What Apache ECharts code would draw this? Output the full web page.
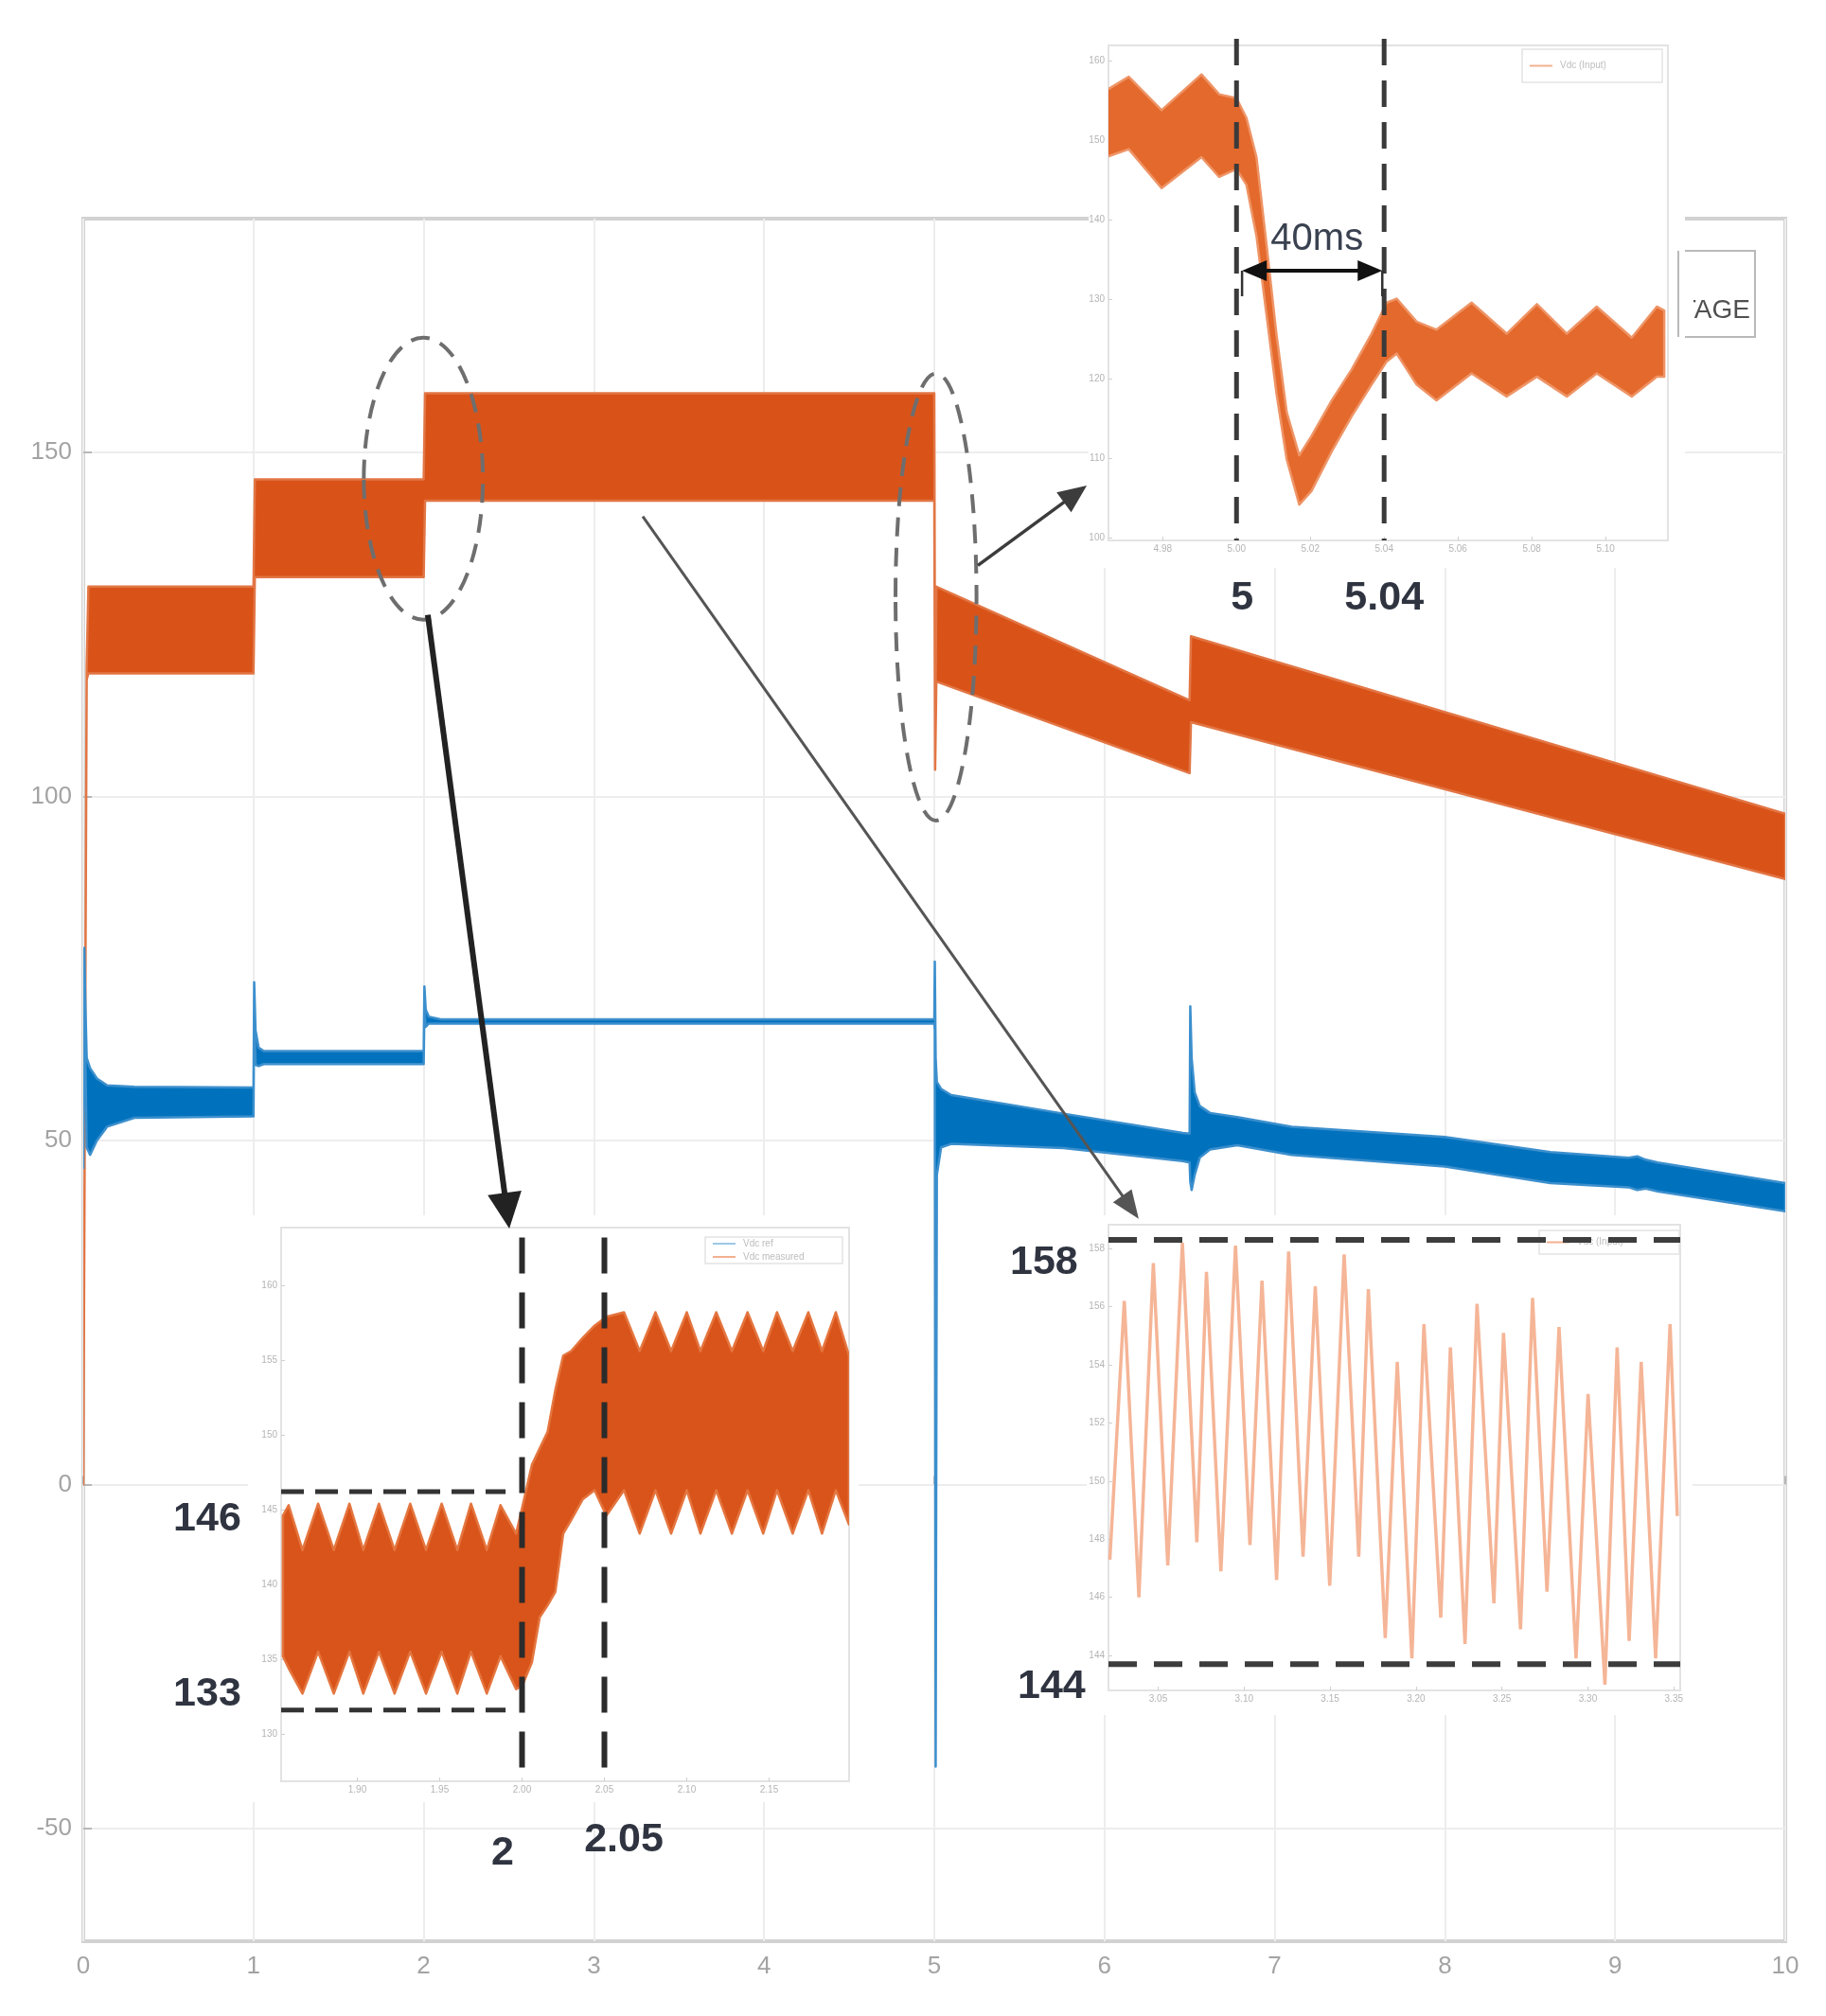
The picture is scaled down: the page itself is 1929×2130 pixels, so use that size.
<!DOCTYPE html>
<html><head><meta charset="utf-8">
<script src="https://cdn.jsdelivr.net/npm/echarts@6/dist/echarts.min.js"></script>
<style>html,body{margin:0;padding:0;background:#fff}#c{width:1929px;height:2130px}</style>
</head><body><div id="c"></div>
<script>
// ---------------- DATA ----------------
const mainXTicks = [0, 1, 2, 3, 4, 5, 6, 7, 8, 9, 10];
const mainYTicks = [-50, 0, 50, 100, 150];

// Orange (voltage) envelope: time, upper edge, lower edge
const voltT  = [0, 0.02, 0.03, 1.0, 1.008, 2.0, 2.008, 5.0, 5.005, 5.012, 6.5, 6.508, 10.0];
const voltHi = [0.5, 119, 130.5, 130.5, 146.1, 146.1, 158.6, 158.6, 106, 130.5, 114, 123.3, 97.5];
const voltLo = [0, 117, 117.9, 117.9, 131.9, 131.9, 143.0, 143.0, 103.9, 116.7, 103.4, 110.8, 88.0];

// Blue (current) envelope
const curT  = [0, 0.006, 0.012, 0.02, 0.04, 0.08, 0.14, 0.3, 1.0, 1.004, 1.012, 1.03, 1.06, 2.0, 2.004, 2.012, 2.03, 2.1, 5.0, 5.003, 5.008, 5.015, 5.04, 5.1, 5.76, 6.46, 6.5, 6.504, 6.512, 6.53, 6.56, 6.62, 6.78, 7.1, 8.0, 8.62, 9.08, 9.13, 9.18, 9.25, 10.0];
const curHi = [48, 78, 70, 62, 60.5, 59, 58, 57.8, 57.7, 73, 66, 63.5, 63, 63, 72.4, 69, 68, 67.6, 67.6, 76, 62, 58.5, 57.5, 56.6, 53.9, 51.1, 51, 69.5, 62, 57, 55, 54, 53.4, 52, 50.5, 48.3, 47.5, 47.7, 47.2, 46.8, 43.8];
const curLo = [46, 74, 62, 49, 47.9, 50, 52, 53.3, 53.5, 69, 61, 60.8, 61.1, 61.1, 69, 66.5, 67, 67, 67, 66, -41, 45, 49, 49.5, 48.9, 47, 46.8, 44, 42.8, 45, 47.5, 48.7, 49.3, 47.9, 46.2, 43.8, 43.2, 42.8, 43.0, 42.6, 39.7];

// Inset A (zoom at t = 5 s)
const insetA_XTicks = [4.98, 5.0, 5.02, 5.04, 5.06, 5.08, 5.1];
const insetA_YTicks = [100, 110, 120, 130, 140, 150, 160];
const insetA_T  = [4.9647, 4.9708, 4.9797, 4.9905, 4.9953, 5.0, 5.0027, 5.0054, 5.0081, 5.0108, 5.0136, 5.0170, 5.0203, 5.0258, 5.0312, 5.0366, 5.0407, 5.0434, 5.0488, 5.0542, 5.0637, 5.0732, 5.0814, 5.0895, 5.0976, 5.1071, 5.1139, 5.1159];
const insetA_Hi = [156.3, 158.0, 153.8, 158.3, 155.8, 155.3, 152.8, 147.9, 137.0, 125.7, 115.8, 110.4, 112.8, 117.3, 121.2, 125.7, 129.6, 130.1, 127.2, 126.2, 129.6, 125.7, 129.4, 125.7, 129.1, 125.2, 129.1, 128.6];
const insetA_Lo = [147.9, 148.9, 144.0, 147.9, 145.4, 146.4, 144.4, 138.0, 128.2, 118.3, 109.9, 104.2, 105.9, 110.9, 115.3, 119.3, 122.2, 123.2, 119.3, 117.3, 120.7, 117.8, 120.3, 117.8, 120.7, 117.8, 120.3, 120.3];
const insetA_Marks = [5.0, 5.04];

// Inset B (zoom at t = 2 s)
const insetB_XTicks = [1.9, 1.95, 2.0, 2.05, 2.1, 2.15];
const insetB_YTicks = [130, 135, 140, 145, 150, 155, 160];
const insetB_T  = [1.8548, 1.8583, 1.8667, 1.8762, 1.8857, 1.8952, 1.9036, 1.9131, 1.9226, 1.9321, 1.9417, 1.9512, 1.9607, 1.9690, 1.9786, 1.9869, 1.9964, 2.0000, 2.0060, 2.0107, 2.0155, 2.0202, 2.0250, 2.0298, 2.0369, 2.0440, 2.0512, 2.0619, 2.0714, 2.0810, 2.0905, 2.1000, 2.1083, 2.1179, 2.1274, 2.1369, 2.1464, 2.1548, 2.1643, 2.1738, 2.1821, 2.1905, 2.1985];
const insetB_Hi = [144.6, 145.3, 142.3, 145.4, 142.3, 145.4, 142.3, 145.4, 142.3, 145.4, 142.3, 145.4, 142.3, 145.4, 142.3, 145.3, 143.4, 145.1, 148.0, 149.1, 150.2, 153.0, 155.3, 155.6, 156.5, 157.3, 157.9, 158.2, 155.6, 158.2, 155.6, 158.2, 155.6, 158.2, 155.6, 158.2, 155.6, 158.2, 155.6, 158.2, 155.6, 158.2, 155.3];
const insetB_Lo = [135.2, 134.4, 132.7, 135.5, 132.7, 135.5, 132.7, 135.5, 132.7, 135.5, 132.7, 135.5, 132.7, 135.5, 132.7, 135.2, 133.0, 133.2, 134.8, 137.8, 138.6, 139.5, 143.4, 144.3, 145.7, 146.3, 144.6, 146.3, 143.4, 146.3, 143.4, 146.3, 143.4, 146.3, 143.4, 146.3, 143.4, 146.3, 143.4, 146.3, 143.4, 146.3, 144.0];
const insetB_XMarks = [2.0, 2.05];
const insetB_YMarks = [146.2, 131.6];

// Inset C (steady state ripple 144..158)
const insetC_XTicks = [3.05, 3.1, 3.15, 3.2, 3.25, 3.3, 3.35];
const insetC_YTicks = [144, 146, 148, 150, 152, 154, 156, 158];
const insetC_T = [3.0219, 3.0303, 3.0388, 3.0472, 3.0556, 3.0641, 3.0725, 3.0781, 3.0865, 3.0950, 3.1034, 3.1104, 3.1189, 3.1259, 3.1343, 3.1414, 3.1498, 3.1582, 3.1667, 3.1723, 3.1821, 3.1891, 3.1976, 3.2046, 3.2144, 3.2200, 3.2285, 3.2355, 3.2453, 3.2509, 3.2608, 3.2678, 3.2762, 3.2832, 3.2931, 3.3001, 3.3099, 3.3170, 3.3240, 3.3310, 3.3394, 3.3478, 3.3520];
const insetC_V = [147.3, 156.2, 146.0, 157.5, 147.1, 158.2, 147.9, 157.2, 146.9, 158.1, 147.8, 156.9, 146.6, 157.9, 147.4, 156.7, 146.4, 157.8, 147.4, 156.6, 144.6, 154.1, 143.9, 155.4, 145.3, 154.6, 144.4, 156.1, 145.8, 155.1, 144.9, 156.3, 146.2, 155.3, 143.9, 153.0, 143.0, 154.6, 144.5, 154.1, 143.9, 155.4, 148.8];
const insetC_YMarks = [158.3, 143.7];

const annotationTexts = { a146: '146', a133: '133', a2: '2', a205: '2.05', a5: '5', a504: '5.04', a40: '40ms', a158: '158', a144: '144' };

// ---------------- CHART ----------------
const chart = echarts.init(document.getElementById('c'), null, { renderer: 'canvas', width: 1929, height: 2130 });
const NUM_FONT = "'Liberation Sans', sans-serif";

function ax(g, min, max, ticks, o) {
  return {
    type: 'value', gridIndex: g, min: min, max: max, z: o.z || 0,
    axisLine: { show: false },
    axisTick: { show: true, inside: true, length: o.tickLen, customValues: ticks, lineStyle: { color: o.tickColor, width: o.tickW } },
    axisLabel: { customValues: ticks, fontSize: o.fs, color: o.lc, margin: o.margin, fontFamily: 'Liberation Sans', formatter: o.fmt },
    splitLine: { show: !!o.split, lineStyle: { color: '#ededed', width: 2 } }
  };
}
const mainO = { tickLen: 9, tickColor: '#b8b8b8', tickW: 2, fs: 26, lc: '#a3a3a3', split: true };
const insO = { tickLen: 4, tickColor: '#d0d0d0', tickW: 1, fs: 10, lc: '#b4b4b4', margin: 4, z: 6 };

function bandSeries(g, T, H, L, fill, stroke, z) {
  return {
    type: 'custom', xAxisIndex: g, yAxisIndex: g, z: z, clip: true, silent: true, animation: false,
    data: [[T[0], H[0]]],
    renderItem: function (params, api) {
      const pts = [];
      for (let i = 0; i < T.length; i++) pts.push(api.coord([T[i], H[i]]));
      for (let i = T.length - 1; i >= 0; i--) pts.push(api.coord([T[i], L[i]]));
      return { type: 'polygon', shape: { points: pts }, style: { fill: fill, stroke: stroke, lineWidth: 2.5, lineJoin: 'round' } };
    }
  };
}

const f2 = v => v.toFixed(2);
const f0 = v => String(Math.round(v));

const option = {
  animation: false,
  backgroundColor: '#ffffff',
  grid: [
    { left: 88, top: 231, width: 1798, height: 1820, show: true, borderColor: '#d2d2d2', borderWidth: 4, backgroundColor: '#ffffff', z: 0 },
    { left: 1171, top: 48, width: 591, height: 523, show: true, borderColor: '#e3e3e3', borderWidth: 2, backgroundColor: '#ffffff', z: 5 },
    { left: 297, top: 1297, width: 600, height: 585, show: true, borderColor: '#e3e3e3', borderWidth: 2, backgroundColor: '#ffffff', z: 5 },
    { left: 1171, top: 1294, width: 604, height: 492, show: true, borderColor: '#e3e3e3', borderWidth: 2, backgroundColor: '#ffffff', z: 5 }
  ],
  xAxis: [
    ax(0, 0, 10, mainXTicks, Object.assign({}, mainO, { margin: 14, fmt: f0 })),
    ax(1, 4.9653, 5.1169, insetA_XTicks, Object.assign({}, insO, { fmt: f2 })),
    ax(2, 1.85374, 2.19856, insetB_XTicks, Object.assign({}, insO, { fmt: f2 })),
    ax(3, 3.0211, 3.3537, insetC_XTicks, Object.assign({}, insO, { fmt: f2 }))
  ],
  yAxis: [
    ax(0, -66.4, 184, mainYTicks, Object.assign({}, mainO, { margin: 12, fmt: f0 })),
    ax(1, 99.7, 161.94, insetA_YTicks, Object.assign({}, insO, { fmt: f0 })),
    ax(2, 126.84, 163.86, insetB_YTicks, Object.assign({}, insO, { fmt: f0 })),
    ax(3, 142.8, 158.82, insetC_YTicks, Object.assign({}, insO, { fmt: f0 }))
  ],
  series: [
    bandSeries(0, voltT, voltHi, voltLo, '#d95319', '#e27645', 2),
    bandSeries(0, curT, curHi, curLo, '#0072bd', '#3c8fcd', 3),
    bandSeries(1, insetA_T, insetA_Hi, insetA_Lo, '#e4692c', '#ee9466', 7),
    bandSeries(2, insetB_T, insetB_Hi, insetB_Lo, '#d9541a', '#e4753f', 7),
    { type: 'line', xAxisIndex: 3, yAxisIndex: 3, z: 7, silent: true, showSymbol: false,
      data: insetC_T.map((t, i) => [t, insetC_V[i]]),
      lineStyle: { color: '#f5b597', width: 3.5 } }
  ]
};
chart.setOption(option);

// ---------------- ANNOTATIONS ----------------
const P = (g, x, y) => chart.convertToPixel({ xAxisIndex: g, yAxisIndex: g }, [x, y]);
function dline(p, q, w, color, dash, z) {
  return { type: 'line', z: z, silent: true, shape: { x1: p[0], y1: p[1], x2: q[0], y2: q[1] }, style: { stroke: color, lineWidth: w, lineDash: dash } };
}
function arrowEls(a, b, w, color, hl, hw, both, z) {
  const dx = b[0] - a[0], dy = b[1] - a[1], L = Math.hypot(dx, dy), ux = dx / L, uy = dy / L, nx = -uy, ny = ux;
  const s = both ? [a[0] + ux * hl * 0.8, a[1] + uy * hl * 0.8] : a;
  const e = [b[0] - ux * hl * 0.8, b[1] - uy * hl * 0.8];
  const els = [{ type: 'line', z: z, silent: true, shape: { x1: s[0], y1: s[1], x2: e[0], y2: e[1] }, style: { stroke: color, lineWidth: w } }];
  const head = (tip, d) => ({ type: 'polygon', z: z, silent: true, shape: { points: [tip,
    [tip[0] - d * ux * hl + nx * hw / 2, tip[1] - d * uy * hl + ny * hw / 2],
    [tip[0] - d * ux * hl - nx * hw / 2, tip[1] - d * uy * hl - ny * hw / 2]] }, style: { fill: color } });
  els.push(head(b, 1));
  if (both) els.push(head(a, -1));
  return els;
}
function txt(p, s, size, weight, color, z, align) {
  return { type: 'text', z: z, silent: true, style: { text: s, x: p[0], y: p[1], fill: color, fontSize: size, fontWeight: weight, fontFamily: NUM_FONT, align: align || 'center', verticalAlign: 'middle' } };
}
function ellipse(g, c, r, z) {
  const pc = P(g, c[0], c[1]), pr = P(g, c[0] + r[0], c[1] + r[1]);
  return { type: 'ellipse', z: z, silent: true, shape: { cx: pc[0], cy: pc[1], rx: Math.abs(pr[0] - pc[0]), ry: Math.abs(pr[1] - pc[1]) },
    style: { fill: null, stroke: '#6e6e6e', lineWidth: 4, lineDash: [20, 12] } };
}
function rect(x, y, w, h, fill, stroke, lw, z) {
  return { type: 'rect', z: z, silent: true, shape: { x: x, y: y, width: w, height: h }, style: { fill: fill, stroke: stroke, lineWidth: lw } };
}
function smallLegend(x, y, w, h, entries) {
  const els = [rect(x, y, w, h, '#ffffff', '#e4e4e4', 1.5, 8)];
  const step = h / entries.length;
  entries.forEach((en, i) => {
    const cy = y + step * (i + 0.5);
    els.push({ type: 'line', z: 8, silent: true, shape: { x1: x + 8, y1: cy, x2: x + 32, y2: cy }, style: { stroke: en.c, lineWidth: 2 } });
    els.push({ type: 'text', z: 8, silent: true, style: { text: en.t, x: x + 40, y: cy, fill: '#bdbdbd', fontSize: 10, fontFamily: 'Liberation Sans', verticalAlign: 'middle' } });
  });
  return els;
}

const DK = '#2f3440';
let g = [];
// main legend (mostly hidden by inset A)
g.push(rect(1640, 265, 214, 91, '#ffffff', '#b9b9b9', 2, 3));
g.push({ type: 'text', z: 3, silent: true, style: { text: 'VOLTAGE', x: 1849, y: 328, fill: '#505050', fontSize: 28, fontFamily: 'Liberation Sans', align: 'right', verticalAlign: 'middle' } });
// white backdrops of the pasted insets
g.push(rect(1150, 28, 630, 572, '#ffffff', null, 0, 4));
g.push(rect(1774, 300, 15, 50, '#ffffff', null, 0, 4));
g.push(rect(262, 1284, 645, 620, '#ffffff', null, 0, 4));
g.push(rect(1148, 1284, 640, 528, '#ffffff', null, 0, 4));
g.push({ type: 'line', z: 5, silent: true, shape: { x1: 1773, y1: 265, x2: 1773, y2: 356 }, style: { stroke: '#b9b9b9', lineWidth: 2 } });
// inset legends
g = g.concat(smallLegend(1608, 52, 148, 35, [{ c: '#f3b090', t: 'Vdc (Input)' }]));
g = g.concat(smallLegend(745, 1307, 145, 28, [{ c: '#9cc7e8', t: 'Vdc ref' }, { c: '#f3b090', t: 'Vdc measured' }]));
g = g.concat(smallLegend(1626, 1300, 148, 25, [{ c: '#f3b090', t: 'Vdc (Input)' }]));

// dashed markers inset A
insetA_Marks.forEach(t => g.push(dline(P(1, t, 162.77), P(1, t, 99.7), 5, '#3a3a3a', [28, 16], 9)));
// dashed markers inset B
insetB_XMarks.forEach(t => g.push(dline(P(2, t, 163.2), P(2, t, 126.84), 6, '#2b2b2b', [38, 20], 9)));
insetB_YMarks.forEach(v => g.push(dline(P(2, 1.85374, v), P(2, 1.99, v), 5, '#333333', [24, 12], 9)));
// dashed markers inset C
insetC_YMarks.forEach(v => g.push(dline(P(3, 3.0211, v), P(3, 3.3537, v), 6, '#3d3d3d', [30, 18], 9)));

// ellipses on main chart
g.push(ellipse(0, [1.998, 146.2], [0.350, 20.5], 20));
g.push(ellipse(0, [5.01, 129.0], [0.238, 32.5], 20));
// arrows
g = g.concat(arrowEls(P(0, 2.024, 126.4), P(0, 2.503, 37.2), 6, '#222222', 38, 36, false, 20));
g = g.concat(arrowEls(P(0, 3.287, 140.7), P(0, 6.201, 38.6), 3, '#555555', 30, 24, false, 20));
g = g.concat(arrowEls(P(0, 5.256, 133.6), P(0, 5.896, 145.2), 3.5, '#3c3c3c', 30, 26, false, 20));
// 40 ms double arrow in inset A
g = g.concat(arrowEls(P(1, 5.0015, 133.62), P(1, 5.0395, 133.62), 4, '#111111', 26, 22, true, 20));
g.push(dline(P(1, 5.0015, 133.62), P(1, 5.0015, 130.4), 2.5, '#333', null, 20));
g.push(dline(P(1, 5.0395, 133.62), P(1, 5.0395, 130.4), 2.5, '#333', null, 20));

// annotation texts
g.push(txt(P(2, 1.8089, 144.37), annotationTexts.a146, 43, 'bold', DK, 20));
g.push(txt(P(2, 1.8089, 132.63), annotationTexts.a133, 43, 'bold', DK, 20));
g.push(txt(P(2, 1.9882, 122.03), annotationTexts.a2, 43, 'bold', DK, 20));
g.push(txt(P(2, 2.0618, 122.91), annotationTexts.a205, 43, 'bold', DK, 20));
g.push(txt(P(1, 5.0015, 92.44), annotationTexts.a5, 43, 'bold', DK, 20));
g.push(txt(P(1, 5.04, 92.44), annotationTexts.a504, 43, 'bold', DK, 20));
g.push(txt(P(1, 5.0218, 137.54), annotationTexts.a40, 40, 'normal', '#3a4150', 20));
g.push(txt(P(3, 2.9836, 157.52), annotationTexts.a158, 43, 'bold', DK, 20));
g.push(txt(P(3, 2.9880, 142.93), annotationTexts.a144, 43, 'bold', DK, 20));

chart.setOption({ graphic: { elements: g } });
</script></body></html>
